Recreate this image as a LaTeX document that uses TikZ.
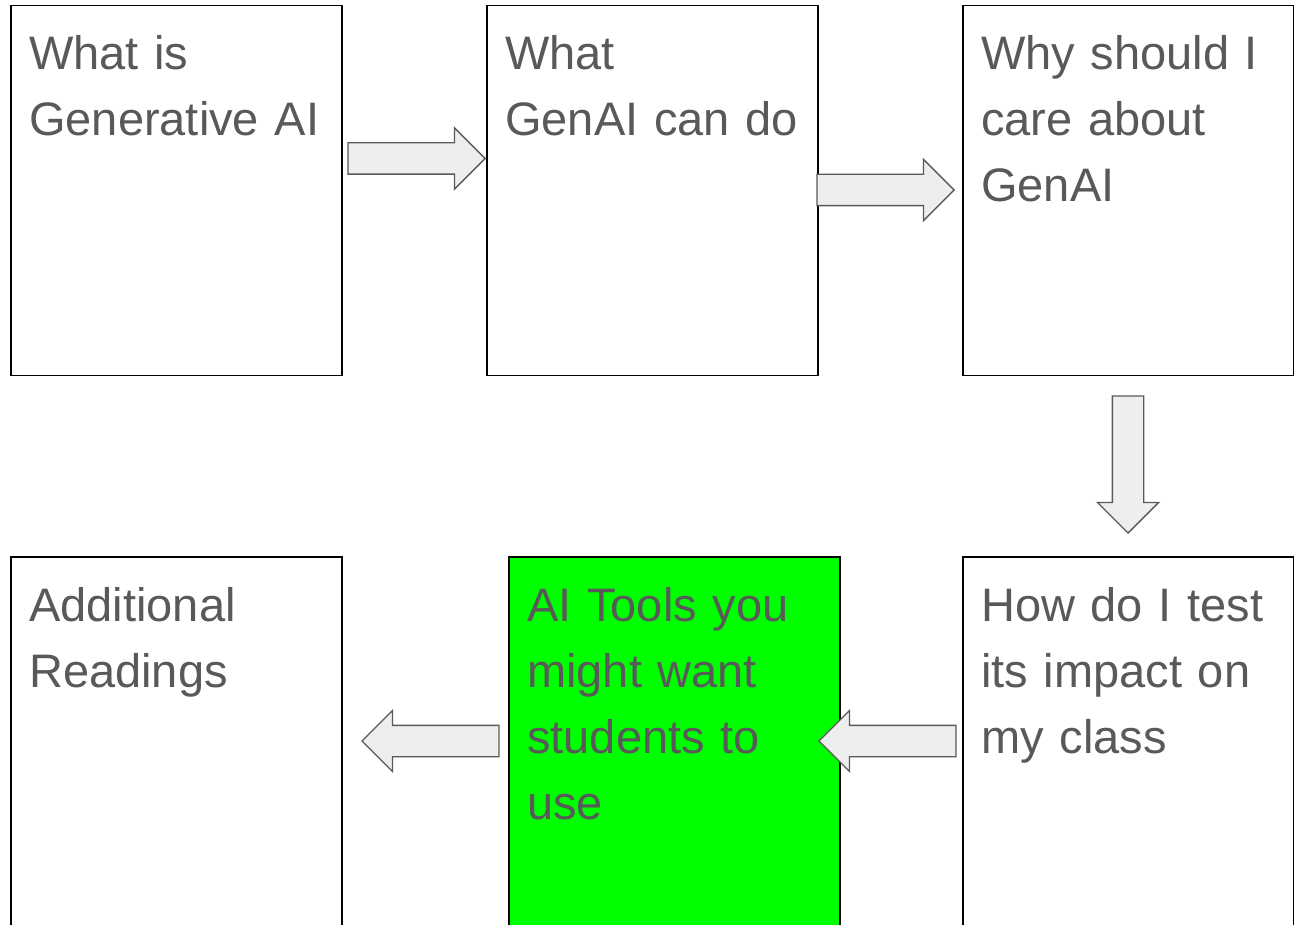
\documentclass[tikz,border=0pt]{standalone}
\usepackage{fontspec}
\setmainfont{Liberation Sans}
\usetikzlibrary{shapes.arrows}

\definecolor{txtgray}{HTML}{595959}
\definecolor{arrline}{HTML}{595959}
\definecolor{arrfill}{HTML}{EEEEEE}
\definecolor{slidegreen}{HTML}{00FF00}

\newcommand{\slidefont}{\fontsize{47pt}{66pt}\selectfont}

\begin{document}
\begin{tikzpicture} [x=1pt, y=-1pt,
			card/.style={draw=black, line width=1.5pt, fill=white,
				anchor=north west, inner sep=0pt,
				minimum width=331pt, minimum height=370pt},
			caption/.style={anchor=base west, inner sep=0pt,
				text=txtgray, font=\slidefont,
				text width=330pt, align=left},
			blockarrow/.style={single arrow, draw=arrline, fill=arrfill,
				line width=1.3pt, inner xsep=0pt, inner ysep=15pt,
				minimum height=137pt, anchor=tip,
				single arrow head extend=15pt,
				single arrow tip angle=90},
		]

		\useasboundingbox (0,0) rectangle (1294,925);
		\clip (0,0) rectangle (1294,925);

		% Top row
		\node (whatis) [card] at (10,5) {};
		\node (cando) [card] at (486,5) {};
		\node (care) [card] at (962,5) {};
		% Bottom row
		\node (readings) [card] at (10,556) {};
		\node (tools) [card, fill=slidegreen] at (508,556) {};
		\node (test) [card] at (962,556) {};

		% Texts
		\node (whatistext) [caption] at (29,70) {What is\\Generative AI};
		\node (candotext) [caption] at (505,70) {What\\GenAI can do};
		\node (caretext) [caption] at (981,70) {Why should I\\care about\\GenAI};
		\node (testtext) [caption] at (981,621) {How do I test\\its impact on\\my class};
		\node (toolstext) [caption] at (527,621) {AI Tools you\\might want\\students to\\use};
		\node (readingstext) [caption] at (29,621) {Additional\\Readings};

		% Arrows
		\node (step1) [blockarrow] at (486,158.5) {};
		\node (step2) [blockarrow] at (955,190) {};
		\node (step3) [blockarrow, rotate=-90] at (1128,534) {};
		\node (step4) [blockarrow, rotate=180] at (818,741) {};
		\node (step5) [blockarrow, rotate=180] at (361,741) {};
	\end{tikzpicture}
\end{document}
